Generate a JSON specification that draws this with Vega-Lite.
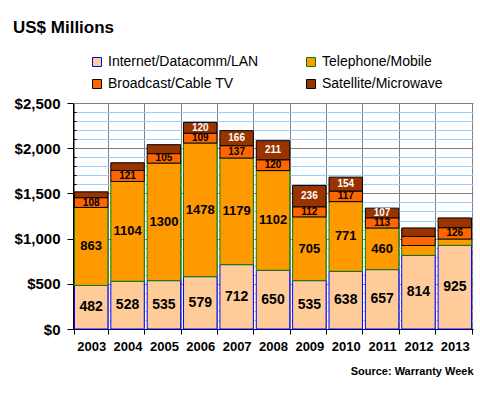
{
  "$schema": "https://vega.github.io/schema/vega-lite/v6.json",
  "width": 400,
  "height": 226,
  "autosize": "none",
  "padding": {"left": 73, "top": 103, "right": 7, "bottom": 71},
  "background": "white",
  "config": {"view": {"stroke": null}, "font": "Liberation Sans"},
  "title": {"text": "US$ Millions", "anchor": "start", "frame": "group", "orient": "top", "fontSize": 17, "font": "Liberation Sans", "fontWeight": "bold", "color": "black", "dx": -60, "dy": -14},
  "data": {"values": [
    {"year": "2003", "series": "Internet/Datacomm/LAN", "value": 482},
    {"year": "2003", "series": "Telephone/Mobile", "value": 863},
    {"year": "2003", "series": "Broadcast/Cable TV", "value": 108},
    {"year": "2003", "series": "Satellite/Microwave", "value": 64},
    {"year": "2004", "series": "Internet/Datacomm/LAN", "value": 528},
    {"year": "2004", "series": "Telephone/Mobile", "value": 1104},
    {"year": "2004", "series": "Broadcast/Cable TV", "value": 121},
    {"year": "2004", "series": "Satellite/Microwave", "value": 86},
    {"year": "2005", "series": "Internet/Datacomm/LAN", "value": 535},
    {"year": "2005", "series": "Telephone/Mobile", "value": 1300},
    {"year": "2005", "series": "Broadcast/Cable TV", "value": 105},
    {"year": "2005", "series": "Satellite/Microwave", "value": 99},
    {"year": "2006", "series": "Internet/Datacomm/LAN", "value": 579},
    {"year": "2006", "series": "Telephone/Mobile", "value": 1478},
    {"year": "2006", "series": "Broadcast/Cable TV", "value": 109},
    {"year": "2006", "series": "Satellite/Microwave", "value": 120},
    {"year": "2007", "series": "Internet/Datacomm/LAN", "value": 712},
    {"year": "2007", "series": "Telephone/Mobile", "value": 1179},
    {"year": "2007", "series": "Broadcast/Cable TV", "value": 137},
    {"year": "2007", "series": "Satellite/Microwave", "value": 166},
    {"year": "2008", "series": "Internet/Datacomm/LAN", "value": 650},
    {"year": "2008", "series": "Telephone/Mobile", "value": 1102},
    {"year": "2008", "series": "Broadcast/Cable TV", "value": 120},
    {"year": "2008", "series": "Satellite/Microwave", "value": 211},
    {"year": "2009", "series": "Internet/Datacomm/LAN", "value": 535},
    {"year": "2009", "series": "Telephone/Mobile", "value": 705},
    {"year": "2009", "series": "Broadcast/Cable TV", "value": 112},
    {"year": "2009", "series": "Satellite/Microwave", "value": 236},
    {"year": "2010", "series": "Internet/Datacomm/LAN", "value": 638},
    {"year": "2010", "series": "Telephone/Mobile", "value": 771},
    {"year": "2010", "series": "Broadcast/Cable TV", "value": 117},
    {"year": "2010", "series": "Satellite/Microwave", "value": 154},
    {"year": "2011", "series": "Internet/Datacomm/LAN", "value": 657},
    {"year": "2011", "series": "Telephone/Mobile", "value": 460},
    {"year": "2011", "series": "Broadcast/Cable TV", "value": 113},
    {"year": "2011", "series": "Satellite/Microwave", "value": 107},
    {"year": "2012", "series": "Internet/Datacomm/LAN", "value": 814},
    {"year": "2012", "series": "Telephone/Mobile", "value": 110},
    {"year": "2012", "series": "Broadcast/Cable TV", "value": 100},
    {"year": "2012", "series": "Satellite/Microwave", "value": 94},
    {"year": "2013", "series": "Internet/Datacomm/LAN", "value": 925},
    {"year": "2013", "series": "Telephone/Mobile", "value": 70},
    {"year": "2013", "series": "Broadcast/Cable TV", "value": 126},
    {"year": "2013", "series": "Satellite/Microwave", "value": 108}
  ]},
  "transform": [{"stack": "value", "groupby": ["year"], "as": ["y0", "y1"]}],
  "encoding": {
    "x": {"field": "year", "type": "ordinal", "scale": {"paddingInner": 0.08, "paddingOuter": 0.04},
      "axis": {"title": "Source: Warranty Week", "titleAnchor": "end", "titleFontSize": 11, "titleFontWeight": "bold", "titleColor": "black", "titleFont": "Liberation Sans", "titlePadding": 12,
        "labelAngle": 0, "labelFontSize": 13, "labelFontWeight": "bold", "labelColor": "black", "labelFont": "Liberation Sans", "labelPadding": 6,
        "tickBand": "extent", "grid": true, "gridColor": "#808080", "gridOpacity": 1, "domainColor": "black", "tickColor": "black", "tickSize": 5}},
    "y": {"field": "y1", "type": "quantitative", "scale": {"domain": [0, 2500], "nice": false},
      "axis": {"title": null, "values": [0, 100, 200, 300, 400, 500, 600, 700, 800, 900, 1000, 1100, 1200, 1300, 1400, 1500, 1600, 1700, 1800, 1900, 2000, 2100, 2200, 2300, 2400, 2500],
        "labelExpr": "datum.value % 500 === 0 ? '$' + format(datum.value, ',') : ''",
        "labelOverlap": false,
        "gridColor": {"condition": {"test": "datum.value % 500 === 0", "value": "#808080"}, "value": "#99CCFF"},
        "tickSize": {"condition": {"test": "datum.value % 500 === 0", "value": 6}, "value": -3},
        "gridOpacity": 1, "labelFontSize": 15, "labelFontWeight": "bold", "labelColor": "black", "labelFont": "Liberation Sans", "labelPadding": 7,
        "domainColor": "black", "tickColor": "black"}}
  },
  "layer": [
    {
      "mark": {"type": "bar", "strokeWidth": 1},
      "encoding": {
        "y2": {"field": "y0"},
        "fill": {"field": "series", "type": "nominal",
          "scale": {"domain": ["Internet/Datacomm/LAN", "Telephone/Mobile", "Broadcast/Cable TV", "Satellite/Microwave"], "range": ["#FFCC99", "#FF9900", "#FF6600", "#993300"]},
          "legend": {"title": null, "orient": "none", "direction": "horizontal", "legendX": 17, "legendY": -48, "columns": 2, "columnPadding": 45, "rowPadding": 8, "symbolType": "square", "symbolSize": 81, "symbolStrokeWidth": 1, "labelFontSize": 14, "labelFont": "Liberation Sans", "labelColor": "black", "labelOffset": 4, "labelLimit": 300}},
        "stroke": {"field": "series", "type": "nominal",
          "scale": {"domain": ["Internet/Datacomm/LAN", "Telephone/Mobile", "Broadcast/Cable TV", "Satellite/Microwave"], "range": ["#0000FF", "#008000", "#000000", "#000000"]},
          "legend": {"title": null, "orient": "none", "direction": "horizontal", "legendX": 17, "legendY": -48, "columns": 2, "columnPadding": 45, "rowPadding": 8, "symbolType": "square", "symbolSize": 81, "symbolStrokeWidth": 1, "labelFontSize": 14, "labelFont": "Liberation Sans", "labelColor": "black", "labelOffset": 4, "labelLimit": 300}}
      }
    },
    {
      "transform": [
        {"filter": "!((datum.series === 'Satellite/Microwave' && (datum.year < '2006' || datum.year > '2011')) || (datum.year === '2012' && datum.series !== 'Internet/Datacomm/LAN') || (datum.year === '2013' && datum.series === 'Telephone/Mobile'))"},
        {"fold": ["y0", "y1"], "as": ["k", "pos"]},
        {"aggregate": [{"op": "mean", "field": "pos", "as": "y1"}], "groupby": ["year", "series", "value"]}
      ],
      "mark": {"type": "text", "fontWeight": "bold", "baseline": "middle", "align": "center", "font": "Liberation Sans"},
      "encoding": {
        "text": {"field": "value", "type": "quantitative"},
        "color": {"condition": {"test": "datum.series === 'Satellite/Microwave'", "value": "white"}, "value": "black"},
        "size": {"condition": [{"test": "datum.series === 'Internet/Datacomm/LAN'", "value": 14}, {"test": "datum.series === 'Telephone/Mobile'", "value": 13}], "value": 10}
      }
    }
  ]
}
